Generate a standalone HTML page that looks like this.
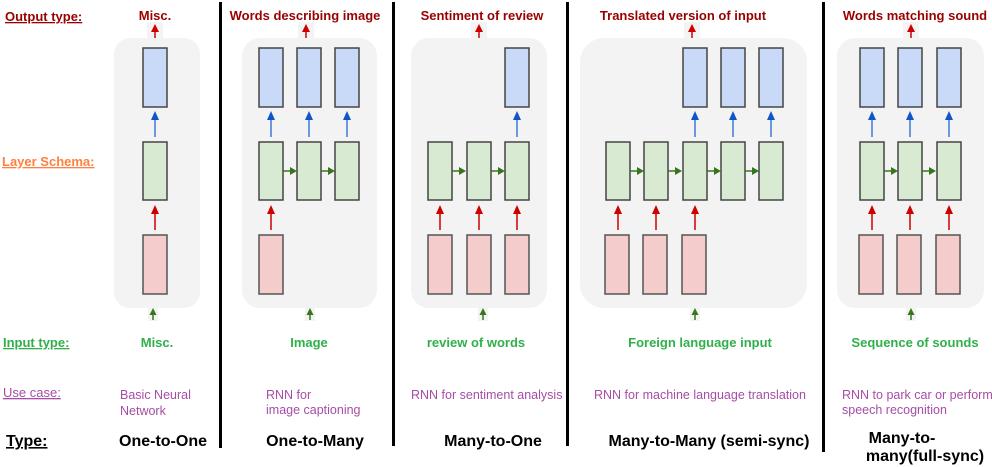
<!DOCTYPE html>
<html><head><meta charset="utf-8"><style>
body{margin:0;background:#fff;}
svg{display:block;font-family:"Liberation Sans",Arial,sans-serif;}
.t{font-weight:bold;font-size:13px;fill:#990000;text-anchor:middle}
.i{font-weight:bold;font-size:13px;fill:#2fb04a;text-anchor:middle}
.u{font-size:12.5px;fill:#a64da6}
.y{font-weight:bold;font-size:16px;fill:#000;text-anchor:middle}
</style></head><body>
<svg width="992" height="467" viewBox="0 0 992 467" xmlns="http://www.w3.org/2000/svg">
<defs>
<rect id="b" x="0" y="48" width="24" height="59" fill="#c9daf8" stroke="#444" stroke-width="1.5"/>
<rect id="g" x="0" y="142" width="24" height="58" fill="#d9ead3" stroke="#444" stroke-width="1.5"/>
<rect id="r" x="0" y="235" width="24" height="59" fill="#f4cccc" stroke="#555" stroke-width="1.5"/>
<g id="ba"><line x1="12" y1="137" x2="12" y2="118" stroke="#3c78d8" stroke-width="1.5"/><polygon points="12,111 8,120 16,120" fill="#1155cc"/></g>
<g id="ra"><line x1="12" y1="230" x2="12" y2="212" stroke="#cc0000" stroke-width="1.5"/><polygon points="12,205 8,214 16,214" fill="#cc0000"/></g>
<g id="ga"><line x1="24" y1="171" x2="32" y2="171" stroke="#38761d" stroke-width="1.5"/><polygon points="38,171 31,167 31,175" fill="#38761d"/></g>
<g id="oa"><rect x="-8" y="22" width="16" height="16" fill="#f3f3f3"/><line x1="0" y1="38" x2="0" y2="30" stroke="#cc0000" stroke-width="1.5"/><polygon points="0,24 -4,32 4,32" fill="#cc0000"/></g>
<g id="ia"><rect x="-5" y="308" width="10" height="13" fill="#f3f3f3"/><line x1="0" y1="320" x2="0" y2="313" stroke="#38761d" stroke-width="1.5"/><polygon points="0,308 -3.5,315 3.5,315" fill="#38761d"/></g>
</defs>

<rect x="219" y="2" width="3" height="446" fill="#000"/>
<rect x="392" y="2" width="3" height="444" fill="#000"/>
<rect x="566" y="2" width="3" height="444" fill="#000"/>
<rect x="822" y="2" width="3" height="450" fill="#000"/>

<text x="5" y="21" font-size="13" font-weight="bold" fill="#990000" text-decoration="underline">Output type:</text>
<text x="2" y="166" font-size="13" font-weight="bold" fill="#ff8040" text-decoration="underline">Layer Schema:</text>
<text x="3" y="347" font-size="13" font-weight="bold" fill="#2fb04a" text-decoration="underline">Input type:</text>
<text x="3" y="397" font-size="13" fill="#a64da6" text-decoration="underline">Use case:</text>
<text x="6" y="446" font-size="16" font-weight="bold" fill="#000" text-decoration="underline">Type:</text>

<rect x="114" y="38" width="86" height="270" rx="16" fill="#f3f3f3"/>
<use href="#oa" x="155"/><use href="#ia" x="153"/>
<use href="#b" x="143"/><use href="#ba" x="143"/><use href="#g" x="143"/><use href="#ra" x="143"/><use href="#r" x="143"/>
<text class="t" x="155" y="20">Misc.</text>
<text class="i" x="157" y="347">Misc.</text>
<text class="u" x="120" y="399">Basic Neural</text>
<text class="u" x="120" y="415">Network</text>
<text class="y" x="163" y="446">One-to-One</text>

<rect x="242" y="38" width="135" height="270" rx="18" fill="#f3f3f3"/>
<use href="#oa" x="306"/><use href="#ia" x="310"/>
<use href="#b" x="259"/><use href="#b" x="297"/><use href="#b" x="335"/>
<use href="#ba" x="259"/><use href="#ba" x="297"/><use href="#ba" x="335"/>
<use href="#g" x="259"/><use href="#g" x="297"/><use href="#g" x="335"/>
<use href="#ga" x="259"/><use href="#ga" x="297"/>
<use href="#ra" x="259"/><use href="#r" x="259"/>
<text class="t" x="305" y="20">Words describing image</text>
<text class="i" x="309" y="347">Image</text>
<text class="u" x="266" y="399">RNN for</text>
<text class="u" x="266" y="414">image captioning</text>
<text class="y" x="315" y="446">One-to-Many</text>

<rect x="411" y="38" width="136" height="270" rx="18" fill="#f3f3f3"/>
<use href="#oa" x="479"/><use href="#ia" x="483"/>
<use href="#b" x="505"/><use href="#ba" x="505"/>
<use href="#g" x="428"/><use href="#g" x="467"/><use href="#g" x="505"/>
<use href="#ga" x="428"/><use href="#ga" x="467"/>
<use href="#ra" x="428"/><use href="#ra" x="467"/><use href="#ra" x="505"/>
<use href="#r" x="428"/><use href="#r" x="467"/><use href="#r" x="505"/>
<text class="t" x="482" y="20">Sentiment of review</text>
<text class="i" x="476" y="347">review of words</text>
<text class="u" x="411" y="399">RNN for sentiment analysis</text>
<text class="y" x="493" y="446">Many-to-One</text>

<rect x="580" y="38" width="227" height="270" rx="24" fill="#f3f3f3"/>
<use href="#oa" x="692"/><use href="#ia" x="695"/>
<use href="#b" x="683"/><use href="#b" x="721"/><use href="#b" x="759"/>
<use href="#ba" x="683"/><use href="#ba" x="721"/><use href="#ba" x="759"/>
<use href="#g" x="606"/><use href="#g" x="644"/><use href="#g" x="683"/><use href="#g" x="721"/><use href="#g" x="759"/>
<use href="#ga" x="606"/><use href="#ga" x="644"/><use href="#ga" x="683"/><use href="#ga" x="721"/>
<use href="#ra" x="606"/><use href="#ra" x="644"/><use href="#ra" x="683"/>
<use href="#r" x="605"/><use href="#r" x="643"/><use href="#r" x="682"/>
<text class="t" x="683" y="20">Translated version of input</text>
<text class="i" x="700" y="347">Foreign language input</text>
<text class="u" x="594" y="399">RNN for machine language translation</text>
<text class="y" x="709" y="446">Many-to-Many (semi-sync)</text>

<rect x="837" y="38" width="147" height="270" rx="18" fill="#f3f3f3"/>
<use href="#oa" x="911"/><use href="#ia" x="911"/>
<use href="#b" x="860"/><use href="#b" x="898"/><use href="#b" x="937"/>
<use href="#ba" x="860"/><use href="#ba" x="898"/><use href="#ba" x="937"/>
<use href="#g" x="860"/><use href="#g" x="898"/><use href="#g" x="937"/>
<use href="#ga" x="860"/><use href="#ga" x="898"/>
<use href="#ra" x="860"/><use href="#ra" x="898"/><use href="#ra" x="937"/>
<use href="#r" x="859"/><use href="#r" x="897"/><use href="#r" x="936"/>
<text class="t" x="915" y="20">Words matching sound</text>
<text class="i" x="915" y="347">Sequence of sounds</text>
<text class="u" x="842" y="399">RNN to park car or perform</text>
<text class="u" x="842" y="414">speech recognition</text>
<text class="y" x="902" y="443">Many-to-</text>
<text class="y" x="925" y="461">many(full-sync)</text>
</svg>
</body></html>
